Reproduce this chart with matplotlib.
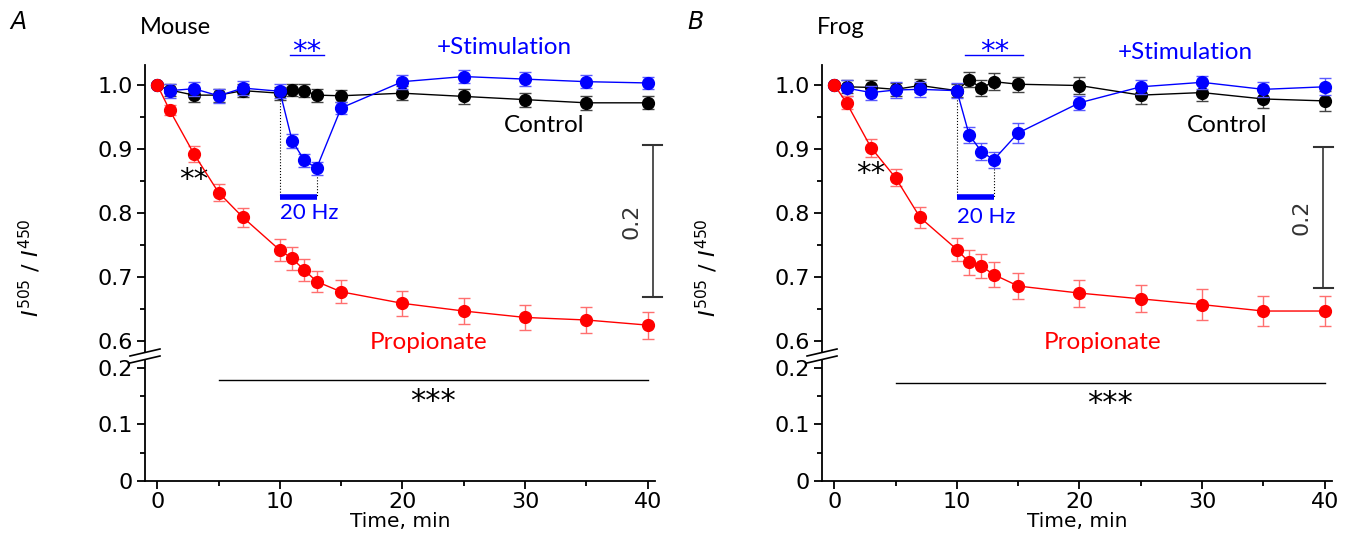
import numpy as np
import matplotlib
matplotlib.use("Agg")
import matplotlib.pyplot as plt
from matplotlib.lines import Line2D
from matplotlib.ticker import MultipleLocator

# time points (min)
time = [0, 1, 3, 5, 7, 10, 11, 12, 13, 15, 20, 25, 30, 35, 40]

# Mouse
mouse_prop = [1.0, 0.961, 0.892, 0.832, 0.793, 0.742, 0.729, 0.711, 0.693, 0.677, 0.659, 0.647, 0.637, 0.633, 0.625]
mouse_prop_err = [0, 0.008, 0.012, 0.014, 0.015, 0.017, 0.018, 0.017, 0.017, 0.018, 0.019, 0.021, 0.020, 0.021, 0.021]
mouse_ctrl = [1.0, 0.992, 0.984, 0.984, 0.991, 0.987, 0.992, 0.991, 0.984, 0.983, 0.987, 0.982, 0.977, 0.972, 0.972]
mouse_ctrl_err = [0, 0.009, 0.010, 0.010, 0.010, 0.010, 0.010, 0.010, 0.010, 0.009, 0.011, 0.012, 0.011, 0.011, 0.010]
mouse_stim = [1.0, 0.991, 0.994, 0.983, 0.995, 0.990, 0.913, 0.882, 0.870, 0.964, 1.005, 1.013, 1.009, 1.005, 1.003]
mouse_stim_err = [0, 0.011, 0.011, 0.011, 0.011, 0.011, 0.011, 0.010, 0.010, 0.009, 0.011, 0.010, 0.011, 0.010, 0.010]

# Frog
frog_prop = [1.0, 0.972, 0.902, 0.855, 0.793, 0.743, 0.723, 0.717, 0.704, 0.686, 0.675, 0.666, 0.657, 0.647, 0.647]
frog_prop_err = [0, 0.010, 0.014, 0.013, 0.016, 0.018, 0.019, 0.019, 0.019, 0.020, 0.021, 0.021, 0.024, 0.023, 0.024]
frog_ctrl = [1.0, 0.997, 0.996, 0.993, 0.999, 0.991, 1.008, 0.995, 1.005, 1.001, 0.999, 0.984, 0.988, 0.978, 0.975]
frog_ctrl_err = [0, 0.010, 0.011, 0.010, 0.010, 0.010, 0.012, 0.012, 0.013, 0.012, 0.013, 0.014, 0.013, 0.014, 0.016]
frog_stim = [1.0, 0.995, 0.988, 0.992, 0.993, 0.991, 0.922, 0.896, 0.883, 0.925, 0.972, 0.997, 1.004, 0.993, 0.997]
frog_stim_err = [0, 0.012, 0.011, 0.012, 0.012, 0.012, 0.012, 0.013, 0.012, 0.015, 0.011, 0.011, 0.010, 0.012, 0.013]

panels = [
    dict(letter="A", title="Mouse", left=0.1074,
         prop=mouse_prop, prop_err=mouse_prop_err,
         ctrl=mouse_ctrl, ctrl_err=mouse_ctrl_err,
         stim=mouse_stim, stim_err=mouse_stim_err,
         sig_span=(10.8, 13.6), stim_pos=(22.8, 1.059), ctrl_pos=(28.3, 0.936),
         prop_pos=(22.1, 0.598), star_pos=(3.0, 0.852), hz_y=0.80,
         scale_x=40.4, scale_y=(0.669, 0.906), scale_txt=38.7,
         line_y=0.179, stars_y=0.140),
    dict(letter="B", title="Frog", left=0.6089,
         prop=frog_prop, prop_err=frog_prop_err,
         ctrl=frog_ctrl, ctrl_err=frog_ctrl_err,
         stim=frog_stim, stim_err=frog_stim_err,
         sig_span=(10.7, 15.4), stim_pos=(23.1, 1.050), ctrl_pos=(28.8, 0.936),
         prop_pos=(21.9, 0.598), star_pos=(2.95, 0.861), hz_y=0.794,
         scale_x=39.9, scale_y=(0.683, 0.903), scale_txt=38.1,
         line_y=0.173, stars_y=0.137),
]

RED = "#ff0000"
BLUE = "#0000ff"
ANN = "Lato"

plt.rcParams["font.family"] = ["DejaVu Sans"]
fig = plt.figure(figsize=(13.5, 5.4), dpi=100)

W = 0.3778
for p in panels:
    ax = fig.add_axes([p["left"], 0.3481, W, 0.5315])
    axl = fig.add_axes([p["left"], 0.1093, W, 0.2241], sharex=ax)

    series = [(p["ctrl"], p["ctrl_err"], "black", "#444444"),
              (p["stim"], p["stim_err"], BLUE, "#5a5aff"),
              (p["prop"], p["prop_err"], RED, "#ff6f6f")]
    for z, (y, e, c, ec) in enumerate(series):
        ax.errorbar(time, y, yerr=e, color=c, ecolor=ec, marker="o", ms=8.5,
                    lw=1.0, elinewidth=1.0, capsize=4, capthick=1.0, zorder=3 + z)

    ax.set_xlim(-1.0, 40.6)
    ax.set_ylim(0.583, 1.031)
    axl.set_ylim(0, 0.214)

    for a in (ax, axl):
        a.spines["top"].set_visible(False)
        a.spines["right"].set_visible(False)
        a.spines["left"].set_linewidth(1.3)
        a.tick_params(axis="y", which="major", length=6, width=1.3, labelsize=16, pad=3)
        a.tick_params(axis="y", which="minor", length=3.5, width=1.3)
    ax.spines["bottom"].set_visible(False)
    ax.tick_params(axis="x", which="both", bottom=False, labelbottom=False)
    ax.yaxis.set_major_locator(MultipleLocator(0.1))
    ax.yaxis.set_minor_locator(MultipleLocator(0.05))
    ax.yaxis.set_major_formatter(plt.FuncFormatter(lambda v, _: f"{v:.1f}"))
    axl.yaxis.set_major_locator(MultipleLocator(0.1))
    axl.yaxis.set_minor_locator(MultipleLocator(0.05))
    axl.yaxis.set_major_formatter(plt.FuncFormatter(lambda v, _: "0" if v == 0 else f"{v:.1f}"))
    axl.spines["bottom"].set_linewidth(1.3)
    axl.xaxis.set_major_locator(MultipleLocator(10))
    axl.xaxis.set_minor_locator(MultipleLocator(5))
    axl.tick_params(axis="x", which="major", length=6, width=1.3, labelsize=16, pad=2)
    axl.tick_params(axis="x", which="minor", length=3.5, width=1.3)
    axl.set_xlabel("Time, min", fontsize=14.5, labelpad=0)

    # stimulation bar and dotted guides
    i10, i13 = time.index(10), time.index(13)
    ax.plot([10, 13], [0.825, 0.825], color=BLUE, lw=4, solid_capstyle="butt", zorder=2)
    ax.plot([10, 10], [p["stim"][i10], 0.825], color="black", lw=0.8, ls=":", zorder=1)
    ax.plot([13, 13], [p["stim"][i13], 0.825], color="black", lw=0.8, ls=":", zorder=1)
    ax.text(10, p["hz_y"], "20 Hz", color=BLUE, fontsize=16, family=ANN, ha="left", va="center")

    # significance marks
    s0, s1 = p["sig_span"]
    ax.plot([s0, s1], [1.047, 1.047], color=BLUE, lw=1.0, clip_on=False)
    ax.text((s0 + s1) / 2, 1.052, "**", color=BLUE, fontsize=21, ha="center", va="center")
    ax.text(*p["star_pos"], "**", color="black", fontsize=21, ha="center", va="center")

    ax.text(*p["stim_pos"], "+Stimulation", color=BLUE, fontsize=17.5, family=ANN,
            ha="left", va="center", clip_on=False)
    ax.text(*p["ctrl_pos"], "Control", color="black", fontsize=17.5, family=ANN,
            ha="left", va="center")
    ax.text(*p["prop_pos"], "Propionate", color=RED, fontsize=17.5, family=ANN,
            ha="center", va="center")
    ax.text(-1.4, 1.089, p["title"], fontsize=17, family=ANN, ha="left", va="center",
            clip_on=False)

    # scale bar
    sx = p["scale_x"]
    y0, y1 = p["scale_y"]
    ax.plot([sx, sx], [y0, y1], color="#333333", lw=1.2, clip_on=False)
    for yy in (y0, y1):
        ax.plot([sx - 0.8, sx + 0.8], [yy, yy], color="#333333", lw=1.5, clip_on=False)
    ax.text(p["scale_txt"], (y0 + y1) / 2, "0.2", rotation=90, fontsize=16,
            ha="center", va="center", color="#333333")

    # long-term significance
    axl.plot([5, 40], [p["line_y"], p["line_y"]], color="black", lw=1.0)
    axl.text(22.5, p["stars_y"], "***", fontsize=22, ha="center", va="center")

    # axis break marks
    xs = p["left"] * 1350
    for yb in ((356, 349), (363, 356)):
        fig.add_artist(Line2D([(xs - 15) / 1350, (xs + 15) / 1350],
                              [1 - yb[0] / 540, 1 - yb[1] / 540],
                              color="black", lw=1.2))

    # y label and panel letter
    fig.text(p["left"] - 0.085, 0.504, r"$\mathit{I}^{505}$ / $\mathit{I}^{450}$",
             rotation=90, fontsize=16, ha="center", va="center")
    fig.text(p["left"] - 0.0995, 0.96, p["letter"], fontsize=17, style="italic",
             ha="left", va="center")

fig.savefig("out.png", dpi=100)
